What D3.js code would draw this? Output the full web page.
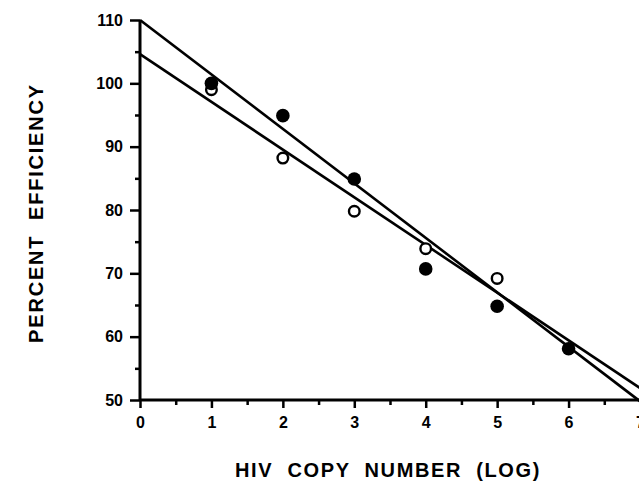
<!DOCTYPE html>
<html><head><meta charset="utf-8">
<script src="https://cdn.jsdelivr.net/npm/d3@7"></script>
<style>
body{margin:0;background:#fff;}
svg{display:block;}
text{font-family:"Liberation Sans",Arial,sans-serif;font-weight:bold;fill:#000;}
</style></head>
<body>
<script>
// Data
const copyNumbers = [1, 2, 3, 4, 5, 6];
const filledValues = [100, 94.9, 84.9, 70.7, 64.8, 58.1];
const openX = [1, 2, 3, 4, 5];
const openValues = [99.0, 88.2, 79.8, 73.9, 69.2];
// regression lines: [intercept, slope]
const lineFilled = [110, -8.6];
const lineOpen = [104.6, -7.53];
const xTicks = [0, 1, 2, 3, 4, 5, 6, 7];
const yTicks = [50, 60, 70, 80, 90, 100, 110];
const xLabel = "HIV  COPY  NUMBER  (LOG)";
const yLabel = "PERCENT  EFFICIENCY";

const W = 639, H = 481;
const svg = d3.select("body").append("svg").attr("width", W).attr("height", H);
const x = d3.scaleLinear().domain([0, 7]).range([140, 640]);
const y = d3.scaleLinear().domain([50, 110]).range([400, 20]);

const xMinor = d3.range(0.5, 7, 1);
const yMinor = d3.range(55, 110, 10);

const gx = svg.append("g").attr("transform", `translate(0,${y(50)})`);
gx.call(d3.axisBottom(x).tickValues(xTicks).tickFormat(d3.format("d")).tickSize(8).tickPadding(9));
gx.append("g").call(d3.axisBottom(x).tickValues(xMinor).tickFormat("").tickSize(5)).select(".domain").remove();
gx.selectAll(".domain").attr("stroke-width", 3).attr("d", `M${x(0)},0H${x(7)}`);
gx.selectAll(".tick line").attr("stroke-width", 2.5);
gx.selectAll("text").attr("font-size", 16).attr("font-family", "Liberation Sans, Arial, sans-serif").attr("font-weight", "bold");

const gy = svg.append("g").attr("transform", `translate(${x(0)},0)`);
gy.call(d3.axisLeft(y).tickValues(yTicks).tickFormat(d3.format("d")).tickSize(10).tickPadding(7));
gy.append("g").call(d3.axisLeft(y).tickValues(yMinor).tickFormat("").tickSize(5)).select(".domain").remove();
gy.selectAll(".domain").attr("stroke-width", 3).attr("d", `M0,${y(50)}V${y(110)}`);
gy.selectAll(".tick line").attr("stroke-width", 2.5);
gy.selectAll("text").attr("font-size", 16).attr("font-family", "Liberation Sans, Arial, sans-serif").attr("font-weight", "bold");

// regression lines
const lineGen = d3.line().x(d => x(d[0])).y(d => y(d[1]));
[lineFilled, lineOpen].forEach(p => {
  const pts = [0, 7].map(v => [v, p[0] + p[1] * v]);
  svg.append("path").attr("d", lineGen(pts)).attr("fill", "none").attr("stroke", "#000").attr("stroke-width", 2.6);
});

// points
svg.append("g").selectAll("circle").data(openX.map((d, i) => [d, openValues[i]])).join("circle")
  .attr("cx", d => x(d[0])).attr("cy", d => y(d[1])).attr("r", 5.3)
  .attr("fill", "#fff").attr("stroke", "#000").attr("stroke-width", 2.4);
svg.append("g").selectAll("circle").data(copyNumbers.map((d, i) => [d, filledValues[i]])).join("circle")
  .attr("cx", d => x(d[0])).attr("cy", d => y(d[1])).attr("r", 6.8).attr("fill", "#000");

// titles
svg.append("text").attr("x", 388).attr("y", 477).attr("text-anchor", "middle")
  .attr("font-size", 20).attr("letter-spacing", 1.6).style("white-space", "pre").text(xLabel);
svg.append("text").attr("transform", `translate(43,213) rotate(-90)`).attr("text-anchor", "middle")
  .attr("font-size", 20).attr("letter-spacing", 1.8).style("white-space", "pre").text(yLabel);
</script>
</body></html>
